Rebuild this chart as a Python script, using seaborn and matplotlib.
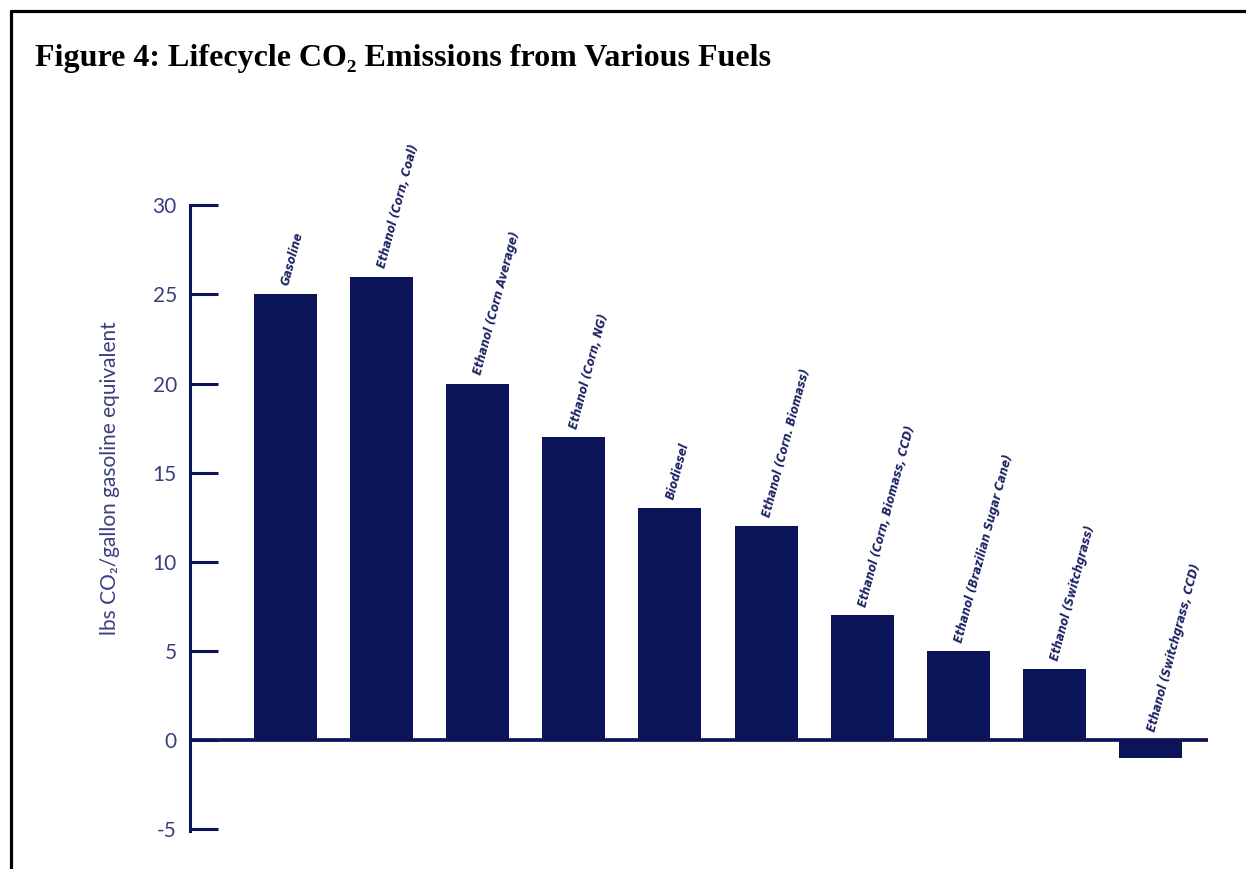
import matplotlib
matplotlib.use("Agg")
import matplotlib.pyplot as plt
import seaborn as sns
from matplotlib.lines import Line2D

# data
fuels = [
    "Gasoline",
    "Ethanol (Corn, Coal)",
    "Ethanol (Corn Average)",
    "Ethanol (Corn, NG)",
    "Biodiesel",
    "Ethanol (Corn. Biomass)",
    "Ethanol (Corn, Biomass, CCD)",
    "Ethanol (Brazilian Sugar Cane)",
    "Ethanol (Switchgrass)",
    "Ethanol (Switchgrass, CCD)",
]
emissions = [25, 26, 20, 17, 13, 12, 7, 5, 4, -1]
y_ticks = [-5, 0, 5, 10, 15, 20, 25, 30]

navy = "#0c1459"
text_navy = "#3a3f7c"

sns.set_style("white")
plt.rcParams["font.family"] = ["Lato", "DejaVu Sans"]

fig = plt.figure(figsize=(12.46, 8.69), dpi=100)
ax = fig.add_axes([0.1525, 0.0437, 0.8170, 0.7204])

sns.barplot(x=fuels, y=emissions, color=navy, saturation=1, width=0.655,
            edgecolor="none", ax=ax)

ax.set_xlim(-0.988, 9.594)
ax.set_ylim(-5.1, 30.02)
ax.set_yticks(y_ticks)
ax.set_yticklabels([str(t) for t in y_ticks], fontsize=15, color=text_navy)
ax.set_xticks([])
ax.set_xlabel("")
ax.set_ylabel("")

for side in ["top", "right", "bottom"]:
    ax.spines[side].set_visible(False)
ax.spines["left"].set_color(navy)
ax.spines["left"].set_linewidth(2.2)
ax.spines["left"].set_bounds(-5.1, 30.0)
ax.tick_params(axis="y", direction="in", length=20, width=2.2, color=navy,
               pad=9.5, left=True)
ax.axhline(0, color=navy, lw=2.7, zorder=3)

# labels above each bar
narrow = ["DejaVu Sans Condensed", "Liberation Sans Narrow", "DejaVu Sans"]
for i, v in enumerate(emissions):
    ax.text(i + 0.04, max(v, 0) + 0.45, fuels[i], rotation=75,
            rotation_mode="anchor", ha="left", va="baseline",
            fontsize=9, fontweight="bold", fontstyle="italic",
            fontstretch="condensed", family=narrow, color="#1c2162")

fig.text(110 / 1246, 1 - 478 / 869, "lbs CO₂/gallon gasoline equivalent",
         rotation=90, ha="center", va="center", fontsize=15,
         color=text_navy)

fig.text(35 / 1246, 1 - 66 / 869,
         "Figure 4: Lifecycle CO₂ Emissions from Various Fuels",
         ha="left", va="baseline", fontsize=23, fontweight="bold",
         family=["Liberation Serif", "DejaVu Serif"], color="black")

# frame around the figure (top and left edges visible)
fig.add_artist(Line2D([11 / 1246, 1], [1 - 11 / 869, 1 - 11 / 869],
                      color="black", lw=2.3, transform=fig.transFigure))
fig.add_artist(Line2D([11 / 1246, 11 / 1246], [1 - 11 / 869, 0],
                      color="black", lw=2.3, transform=fig.transFigure))

fig.savefig("out.png", dpi=100)
